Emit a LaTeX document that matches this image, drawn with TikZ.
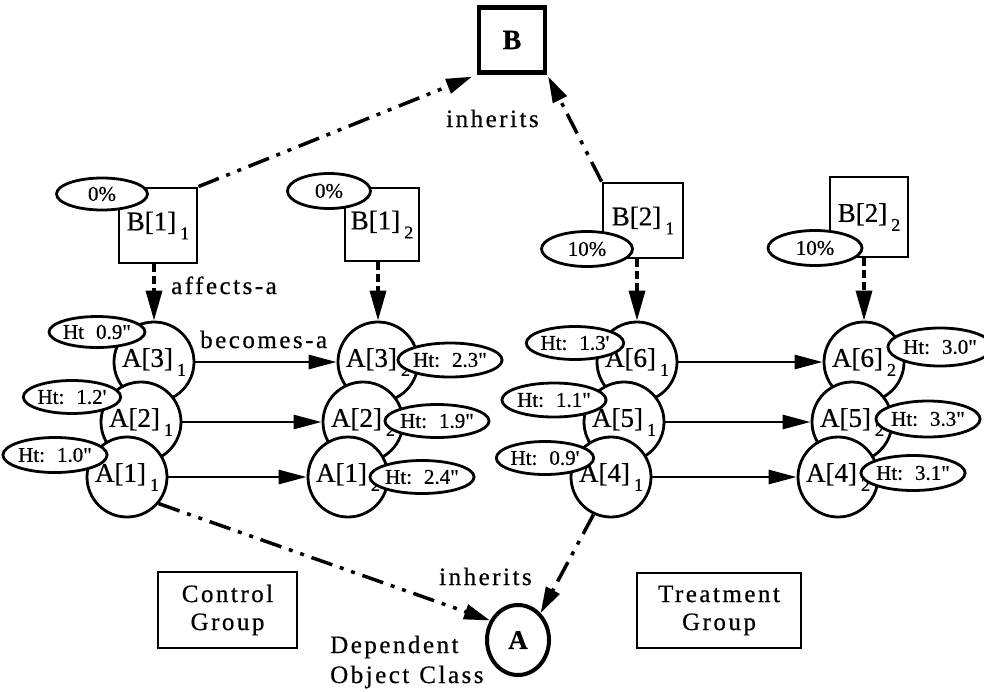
\documentclass[tikz,border=0pt]{standalone}
\usepackage{fontspec}
\setmainfont{Liberation Serif}[FakeBold=0.6]
\newfontfamily\trackfont{Liberation Serif}[LetterSpace=10,FakeBold=0.6]
\usetikzlibrary{shapes.geometric,arrows.meta}
\newcommand\sbx[1]{\kern4pt\raisebox{-9pt}{\fontsize{18}{18}\selectfont #1}}
\newcommand\htv[1]{Ht:\hspace{12pt}#1}
\newcommand\dq{\textquotedbl}
\newcommand\sq{\textquotesingle}
\tikzset{
 objcircle/.style={circle, draw, line width=2.8pt, fill=white, minimum size=80pt, inner sep=0pt, font=\fontsize{27}{30}\selectfont},
 objbox/.style={rectangle, draw, line width=2.8pt, fill=white, inner sep=0pt, font=\fontsize{27}{30}\selectfont},
 valell/.style={ellipse, draw, line width=2.8pt, fill=white, minimum width=90pt, minimum height=33pt, inner sep=0pt, font=\fontsize{21}{24}\selectfont},
 grpbox/.style={rectangle, draw, line width=2.5pt, align=center, font=\trackfont\fontsize{25}{28}\selectfont, inner sep=0pt},
 lbl/.style={font=\trackfont\fontsize{25}{30}\selectfont, inner sep=0pt},
 solidarrow/.style={line width=2.8pt, -{Triangle[length=28pt,width=14pt]}},
 dasharrow/.style={line width=3.5pt, dash pattern=on 8pt off 4pt, -{Triangle[length=30pt,width=16pt]}},
 ddarrow/.style={line width=3.5pt, dash pattern=on 22pt off 8pt on 4pt off 8pt on 4pt off 8pt, -{Triangle[length=26pt,width=15pt]}},
}
\begin{document}
\begin{tikzpicture}[x=1pt,y=-1pt]
\useasboundingbox (0,0) rectangle (984,691);
% class nodes
\node[rectangle, draw, line width=4.5pt, minimum width=66pt, minimum height=65pt, font=\bfseries\fontsize{28}{30}\selectfont] (B) at (512,40) {B};
\node[ellipse, draw, line width=4pt, minimum width=62pt, minimum height=70pt, inner sep=0pt, font=\bfseries\fontsize{27}{30}\selectfont] (Acls) at (518,640) {A};
% B instances
\node[objbox, minimum width=78pt, minimum height=75pt] (B11) at (158,225.5) {B[1]\sbx{1}};
\node[objbox, minimum width=74pt, minimum height=73pt] (B12) at (382,224.5) {B[1]\sbx{2}};
\node[objbox, minimum width=80pt, minimum height=75pt] (B21) at (643,220.5) {B[2]\sbx{1}};
\node[objbox, minimum width=78pt, minimum height=80pt] (B22) at (869,217) {B[2]\sbx{2}};
\node[valell, minimum width=91pt, minimum height=32pt] (P11) at (102,194) {0\%};
\node[valell, minimum width=83pt, minimum height=35pt] (P12) at (329,191) {0\%};
\node[valell, minimum width=91pt, minimum height=35pt] (P21) at (587,249) {10\%};
\node[valell, minimum width=94pt, minimum height=35pt] (P22) at (815,248) {10\%};
% A instances
\node[objcircle] (A31) at (154,362) {A[3]\sbx{1}};
\node[objcircle] (A21) at (141,422) {A[2]\sbx{1}};
\node[objcircle] (A11) at (127,477) {A[1]\sbx{1}};
\node[objcircle] (A32) at (378,362) {A[3]\sbx{2}};
\node[objcircle] (A22) at (363,422) {A[2]\sbx{2}};
\node[objcircle] (A12) at (348,477) {A[1]\sbx{2}};
\node[objcircle] (A61) at (637,362) {A[6]\sbx{1}};
\node[objcircle] (A51) at (624,422) {A[5]\sbx{1}};
\node[objcircle] (A41) at (611,477) {A[4]\sbx{1}};
\node[objcircle] (A62) at (864,362) {A[6]\sbx{2}};
\node[objcircle] (A52) at (852,422) {A[5]\sbx{2}};
\node[objcircle] (A42) at (838,477) {A[4]\sbx{2}};
% height values
\node[valell, minimum width=93pt, minimum height=31pt] (H31) at (97,332) {Ht\hspace{12pt}0.9\dq};
\node[valell] (H21) at (72,397) {\htv{1.2\sq}};
\node[valell, minimum height=35pt] (H11) at (55,455) {\htv{1.0\dq}};
\node[valell, minimum height=34pt] (H32) at (450,360) {\htv{2.3\dq}};
\node[valell] (H22) at (437,421) {\htv{1.9\dq}};
\node[valell] (H12) at (422,477) {\htv{2.4\dq}};
\node[valell, minimum width=91pt] (H61) at (575,343) {\htv{1.3\sq}};
\node[valell, minimum width=92pt, minimum height=34pt] (H51) at (554,400) {\htv{1.1\dq}};
\node[valell] (H41) at (545,458) {\htv{0.9\sq}};
\node[valell, minimum width=86pt, minimum height=38pt] (H62) at (940,347) {\htv{3.0\dq}};
\node[valell, minimum height=36pt] (H52) at (928,419) {\htv{3.3\dq}};
\node[valell, minimum width=88pt, minimum height=35pt] (H42) at (913,473) {\htv{3.1\dq}};
% group boxes and labels
\node[grpbox, minimum width=139pt, minimum height=76pt] (ctl) at (227.5,610) {Control\\Group};
\node[grpbox, minimum width=164pt, minimum height=75pt] (trt) at (719,610.5) {Treatment\\Group};
\node[lbl, anchor=base west] (laff) at (171,294) {affects-a};
\node[lbl, anchor=base west] (lbec) at (200,348) {becomes-a};
\node[lbl, anchor=base west] (linh1) at (446,127) {inherits};
\node[lbl, anchor=base west] (linh2) at (439,585) {inherits};
\node[lbl, anchor=base west, align=left] (ldep) at (330,683) {Dependent\\Object\hspace{10pt}Class};
% connectors
\draw[ddarrow, shorten >=5pt] (B11.north east) -- (B.south west);
\draw[ddarrow, shorten >=2pt] (B21.north west) -- (B.south east);
\draw[ddarrow] (A11.-40) -- (Acls.145);
\draw[ddarrow] (A41.-115) -- (Acls.50);
\draw[dasharrow] (A31.north |- B11.south) -- (A31.north);
\draw[dasharrow] (A32.north |- B12.south) -- (A32.north);
\draw[dasharrow] (A61.north |- B21.south) -- (A61.north);
\draw[dasharrow] (A62.north |- B22.south) -- (A62.north);
\draw[solidarrow] (A31) -- (A32);
\draw[solidarrow] (A21) -- (A22);
\draw[solidarrow] (A11) -- (A12);
\draw[solidarrow] (A61) -- (A62);
\draw[solidarrow] (A51) -- (A52);
\draw[solidarrow] (A41) -- (A42);
\end{tikzpicture}
\end{document}
